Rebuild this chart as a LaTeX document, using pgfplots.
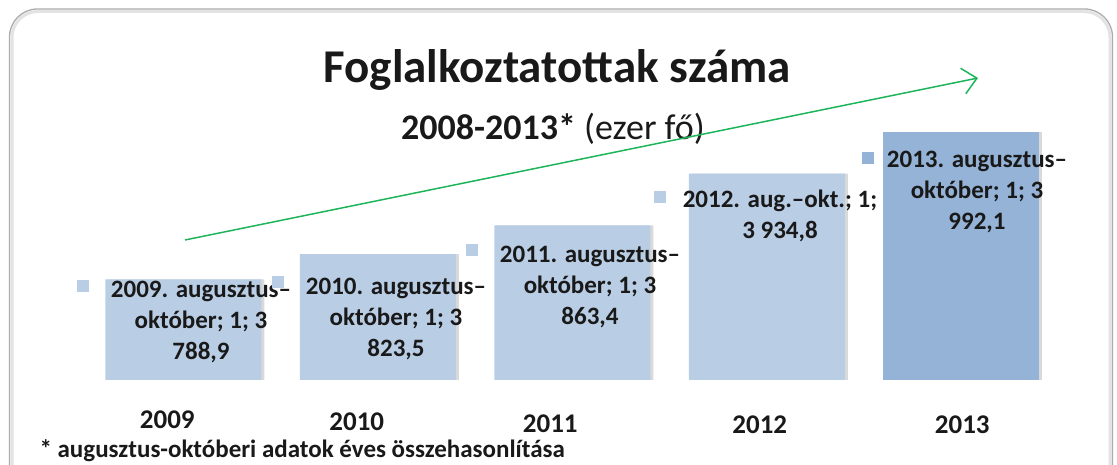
\documentclass[border=0pt]{standalone}
\usepackage{fontspec}
\setmainfont{Carlito}
\usepackage{pgfplots}
\pgfplotsset{compat=1.18}
\usetikzlibrary{arrows.meta}
\definecolor{barlight}{RGB}{185,205,229}
\definecolor{bardark}{RGB}{149,179,215}
\definecolor{arrowgreen}{RGB}{30,180,90}
\definecolor{txt}{RGB}{25,25,25}
\begin{document}
\begin{tikzpicture}[x=1pt,y=1pt]
\useasboundingbox (0,0) rectangle (1117,465);
\clip (0,0) rectangle (1117,465);
% frame
\draw[gray!22, line width=3pt, rounded corners=26pt] (12,-40) rectangle (1110,453.5);
\draw[gray!65, line width=1.3pt, rounded corners=28pt] (9.5,-40) rectangle (1112.5,456);
% title
\node[anchor=base, text=txt, font=\fontsize{47}{50}\selectfont\bfseries] at (557,382) {Foglalkoztatottak száma};
\node[anchor=base, text=txt, font=\fontsize{36}{40}\selectfont] at (553,325) {\textbf{2008-2013*} (ezer fő)};
\begin{axis}[
  at={(86pt,85pt)}, anchor=south west,
  scale only axis, width=972.5pt, height=253.75pt,
  xmin=-0.5, xmax=4.5, ymin=3650, ymax=4000,
  axis line style={draw=none},
  ytick=\empty, xtick=\empty,
  major tick length=0pt,
  clip=false,
]
\addplot[ybar, bar width=156pt, bar shift=0pt, fill=barlight, draw=none,
  preaction={fill=black!15, transform canvas={xshift=3pt}}]
  coordinates {(0,3788.9) (1,3823.5) (2,3863.4) (3,3934.8)};
\addplot[ybar, bar width=156pt, bar shift=0pt, fill=bardark, draw=none,
  preaction={fill=black!15, transform canvas={xshift=3pt}}]
  coordinates {(4,3992.1)};
% category (year) labels under the bars
\pgfplotsset{every node/.append style={}}
\node[text=txt, font=\fontsize{27}{29}\selectfont\bfseries, anchor=base] at (axis cs:0,3650) [xshift=-16pt, yshift=-49pt] {2009};
\node[text=txt, font=\fontsize{27}{29}\selectfont\bfseries, anchor=base] at (axis cs:1,3650) [xshift=-21pt, yshift=-51pt] {2010};
\node[text=txt, font=\fontsize{27}{29}\selectfont\bfseries, anchor=base] at (axis cs:2,3650) [xshift=-22pt, yshift=-53pt] {2011};
\node[text=txt, font=\fontsize{27}{29}\selectfont\bfseries, anchor=base] at (axis cs:3,3650) [xshift=-7pt, yshift=-54pt] {2012};
\node[text=txt, font=\fontsize{27}{29}\selectfont\bfseries, anchor=base] at (axis cs:4,3650) [xshift=1pt, yshift=-54pt] {2013};
\end{axis}
% trend arrow
\draw[arrowgreen, line width=1.5pt, -{Straight Barb[length=14pt,width=26pt]}] (185,225) -- (978,387);
% data labels (anchor = baseline of last line)
\tikzset{dl/.style={anchor=base, align=center, text=txt, font=\fontsize{25}{31}\selectfont\bfseries, inner sep=0pt},
  sq/.style={minimum size=12pt, inner sep=0pt, draw=none}}
\node[sq, fill=barlight] at (83,179) {};
\node[dl] at (201,105) {2009. augusztus–\\október; 1; 3\\788,9};
\node[sq, fill=barlight] at (278,183) {};
\node[dl] at (396,108) {2010. augusztus–\\október; 1; 3\\823,5};
\node[sq, fill=barlight] at (472,215) {};
\node[dl] at (590,140) {2011. augusztus–\\október; 1; 3\\863,4};
\node[sq, fill=barlight] at (660,268) {};
\node[dl] at (780,226) {2012. aug.–okt.; 1;\\3 934,8};
\node[sq, fill=bardark] at (868,307) {};
\node[dl] at (977,235) {2013. augusztus–\\október; 1; 3\\992,1};
% footnote
\node[anchor=west, text=txt, font=\fontsize{25}{27}\selectfont\bfseries] at (36,14) {* augusztus-októberi adatok éves összehasonlítása};
\end{tikzpicture}
\end{document}
